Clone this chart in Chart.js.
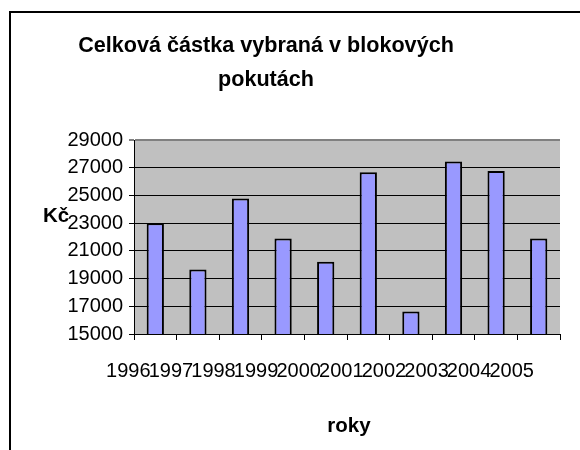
<!DOCTYPE html>
<html>
<head>
<meta charset="utf-8">
<script src="https://cdn.jsdelivr.net/npm/chart.js@4/dist/chart.umd.min.js"></script>
<style>
  html, body { margin: 0; padding: 0; background: #ffffff; }
  #wrap { width: 580px; height: 450px; position: relative; }
</style>
</head>
<body>
<div id="wrap"><canvas id="c" width="580" height="450"></canvas></div>
<script>
const categories = ['1996', '1997', '1998', '1999', '2000', '2001', '2002', '2003', '2004', '2005'];
const values = [23000, 19650, 24770, 21890, 20210, 26670, 16630, 27440, 26770, 21890];
const titleLines = ['Celková částka vybraná v blokových', 'pokutách'];
const yTitle = 'Kč';
const xTitle = 'roky';
const yMin = 15000, yMax = 29000, yStep = 2000;

const FONT = '"Liberation Sans", Arial, sans-serif';

const decor = {
  id: 'decor',
  beforeDraw(chart) {
    const { ctx, chartArea: a } = chart;
    ctx.save();
    ctx.fillStyle = '#ffffff';
    ctx.fillRect(0, 0, chart.width, chart.height);
    // outer chart frame
    ctx.strokeStyle = '#000000';
    ctx.lineWidth = 2;
    ctx.strokeRect(10, 12, 700, 700);
    // plot background
    ctx.fillStyle = '#C0C0C0';
    ctx.fillRect(a.left, a.top, a.right - a.left, a.bottom - a.top);
    ctx.restore();
  },
  afterDraw(chart) {
    const { ctx } = chart;
    ctx.save();
    ctx.fillStyle = '#000000';
    ctx.textAlign = 'center';
    ctx.textBaseline = 'alphabetic';
    ctx.font = 'bold 21.6px ' + FONT;
    ctx.fillText(titleLines[0], 266, 52);
    ctx.fillText(titleLines[1], 266, 86);
    ctx.font = 'bold 20.5px ' + FONT;
    ctx.textAlign = 'left';
    ctx.fillText(yTitle, 43, 222);
    ctx.textAlign = 'center';
    const xs = chart.scales.x;
    ctx.fillText(xTitle, (xs.left + xs.right) / 2 + 2, 432);
    ctx.restore();
  }
};

new Chart(document.getElementById('c'), {
  type: 'bar',
  data: {
    labels: categories,
    datasets: [{
      data: values,
      backgroundColor: '#9999FF',
      borderColor: '#000000',
      borderWidth: 2,
      borderSkipped: false,
      barPercentage: 0.405,
      categoryPercentage: 1.0
    }]
  },
  options: {
    responsive: false,
    animation: false,
    devicePixelRatio: 1,
    layout: { padding: { top: 140, right: 1, left: 0, bottom: 0 } },
    plugins: {
      legend: { display: false },
      title: { display: false },
      tooltip: { enabled: false }
    },
    scales: {
      x: {
        type: 'category',
        offset: true,
        afterFit(s) { s.height = 116; },
        grid: {
          offset: true,
          drawOnChartArea: false,
          drawTicks: true,
          tickLength: 6,
          color: '#000000',
          lineWidth: 1
        },
        border: { display: true, color: '#000000', width: 1 },
        ticks: {
          autoSkip: false,
          maxRotation: 0,
          minRotation: 0,
          labelOffset: -27,
          padding: 19,
          color: '#000000',
          font: { family: FONT, size: 20 }
        }
      },
      y: {
        min: yMin,
        max: yMax,
        afterFit(s) { s.width = 134; },
        afterBuildTicks(s) {
          const t = [];
          for (let v = yMin; v <= yMax; v += yStep) t.push({ value: v });
          s.ticks = t;
        },
        grid: {
          color: (c) => (c.tick && c.tick.value === yMax) ? '#808080' : '#000000',
          lineWidth: (c) => (c.tick && c.tick.value === yMax) ? 2 : 1,
          tickLength: 5,
          drawTicks: true
        },
        border: { display: true, color: '#000000', width: 1 },
        ticks: {
          padding: 6,
          color: '#000000',
          font: { family: FONT, size: 20 },
          callback: (v) => String(v)
        }
      }
    }
  },
  plugins: [decor]
});
</script>
</body>
</html>
